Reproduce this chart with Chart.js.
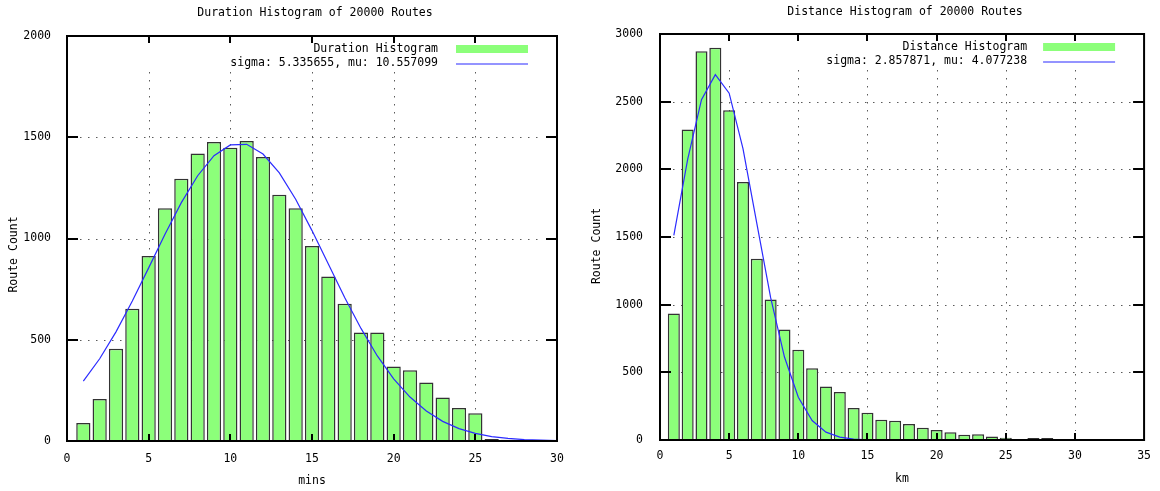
<!DOCTYPE html>
<html>
<head>
<meta charset="utf-8">
<title>Route Histograms</title>
<script src="https://cdn.jsdelivr.net/npm/chart.js@4"></script>
<style>
  html, body { margin: 0; padding: 0; background: #fff; }
  #wrap { position: relative; width: 1160px; height: 491px; }
  canvas { position: absolute; top: 0; }
  #durationChart { left: 0; }
  #distanceChart { left: 580px; }
</style>
</head>
<body>
<div id="wrap">
  <canvas id="durationChart" width="580" height="491"></canvas>
  <canvas id="distanceChart" width="580" height="491"></canvas>
</div>
<script>
// duration histogram, one bin per minute
const durationBins   = [1, 2, 3, 4, 5, 6, 7, 8, 9, 10, 11, 12, 13, 14, 15, 16, 17, 18, 19, 20, 21, 22, 23, 24, 25, 26, 27];
const durationCounts = [89, 207, 456, 653, 913, 1149, 1295, 1420, 1476, 1448, 1481, 1402, 1216, 1149, 963, 812, 678, 536, 536, 368, 350, 289, 215, 163, 137, 10, 6];
// fitted normal curve as plotted (sampled at each minute)
const durationFitX = [1, 2, 3, 4, 5, 6, 7, 8, 9, 10, 11, 12, 13, 14, 15, 16, 17, 18, 19, 20, 21, 22, 23, 24, 25, 26, 27, 28, 29, 30];
const durationFit  = [296, 406, 539, 691, 855, 1021, 1177, 1310, 1409, 1462, 1465, 1417, 1324, 1194, 1039, 874, 709, 556, 420, 307, 217, 148, 97, 61, 38, 22, 13, 7, 4, 2];
const durationXTicks = [0, 5, 10, 15, 20, 25, 30];
const durationYTicks = [0, 500, 1000, 1500, 2000];

// distance histogram, one bin per km
const distanceBins   = [1, 2, 3, 4, 5, 6, 7, 8, 9, 10, 11, 12, 13, 14, 15, 16, 17, 18, 19, 20, 21, 22, 23, 24, 25, 26, 27, 28];
const distanceCounts = [935, 2295, 2872, 2898, 2437, 1906, 1340, 1038, 816, 666, 531, 396, 354, 236, 201, 150, 143, 118, 91, 74, 57, 39, 42, 25, 17, 6, 14, 14];
const distanceFitX = [1, 2, 3, 4, 5, 6, 7, 8, 9, 10, 11, 12, 13, 14, 15, 16, 17, 18, 19, 20, 21, 22, 23, 24, 25, 26, 27, 28, 29, 30];
const distanceFit  = [1512, 2073, 2515, 2700, 2563, 2153, 1600, 1052, 613, 316, 144, 58, 21, 7, 2, 0, 0, 0, 0, 0, 0, 0, 0, 0, 0, 0, 0, 0, 0, 0];
const distanceXTicks = [0, 5, 10, 15, 20, 25, 30, 35];
const distanceYTicks = [0, 500, 1000, 1500, 2000, 2500, 3000];

const FONT = '11.5px "DejaVu Sans Mono", "Liberation Mono", monospace';
const BAR_GREEN = '#8cff7a';
const FIT_BLUE = '#2b2bff';

Chart.defaults.color = '#000';
Chart.defaults.font.family = '"DejaVu Sans Mono", "Liberation Mono", monospace';
Chart.defaults.font.size = 11.5;

// gnuplot look: dotted grid, heavy frame with inward ticks, key in the corner
function gnuplotPlugin(s) {
  return {
    id: 'gnuplot',
    beforeDatasetsDraw(chart) {
      const {ctx, chartArea: a, scales: {x, y}} = chart;
      ctx.save();
      ctx.strokeStyle = '#5a5a5a';
      ctx.lineWidth = 1;
      ctx.setLineDash([1.5, 6.5]);
      x.ticks.forEach(t => {
        if (t.value <= x.min || t.value >= x.max) return;
        const px = Math.round(x.getPixelForValue(t.value)) + 0.5;
        ctx.beginPath(); ctx.moveTo(px, a.top + 36); ctx.lineTo(px, a.bottom - 9); ctx.stroke();
      });
      y.ticks.forEach(t => {
        if (t.value <= y.min || t.value >= y.max) return;
        const py = Math.round(y.getPixelForValue(t.value)) + 0.5;
        ctx.beginPath(); ctx.moveTo(a.left + 13, py); ctx.lineTo(a.right - 13, py); ctx.stroke();
      });
      ctx.restore();
    },
    afterDatasetsDraw(chart) {
      const {ctx, chartArea: a, scales: {x, y}} = chart;
      ctx.save();
      ctx.strokeStyle = '#000';
      ctx.lineWidth = 2;
      ctx.strokeRect(a.left, a.top, a.right - a.left, a.bottom - a.top);
      x.ticks.forEach(t => {
        if (t.value <= x.min || t.value >= x.max) return;
        const px = Math.round(x.getPixelForValue(t.value));
        ctx.beginPath();
        ctx.moveTo(px, a.bottom); ctx.lineTo(px, a.bottom - 7);
        ctx.moveTo(px, a.top); ctx.lineTo(px, a.top + 7);
        ctx.stroke();
      });
      y.ticks.forEach(t => {
        if (t.value <= y.min || t.value >= y.max) return;
        const py = Math.round(y.getPixelForValue(t.value));
        ctx.beginPath();
        ctx.moveTo(a.left, py); ctx.lineTo(a.left + 11, py);
        ctx.moveTo(a.right, py); ctx.lineTo(a.right - 11, py);
        ctx.stroke();
      });
      ctx.restore();
    },
    afterDraw(chart) {
      const {ctx, chartArea: a} = chart;
      const cx = (a.left + a.right) / 2;
      ctx.save();
      ctx.font = FONT;
      ctx.fillStyle = '#000';
      ctx.textBaseline = 'middle';

      ctx.textAlign = 'center';
      ctx.fillText(s.title, cx + 3, s.titleY);
      ctx.fillText(s.xTitle, cx, s.xTitleY);

      ctx.save();
      ctx.translate(s.yTitleX, (a.top + a.bottom) / 2 + s.yTitleDy);
      ctx.rotate(-Math.PI / 2);
      ctx.fillText('Route Count', 0, 0);
      ctx.restore();

      // key
      ctx.textAlign = 'right';
      const tx = a.right - s.keyGap;
      const row1 = a.top + 13, row2 = a.top + 27.5;
      ctx.fillText(s.histLabel, tx, row1);
      ctx.fillText(s.fitLabel, tx, row2);
      ctx.fillStyle = BAR_GREEN;
      ctx.fillRect(a.right - 101, row1 - 4, 72, 8);
      ctx.strokeStyle = FIT_BLUE;
      ctx.lineWidth = 1.2;
      ctx.beginPath(); ctx.moveTo(a.right - 101, row2 + 0.5); ctx.lineTo(a.right - 29, row2 + 0.5); ctx.stroke();
      ctx.restore();
    }
  };
}

function makeChart(id, s) {
  const bars = s.bins.map((b, i) => ({x: b, y: s.counts[i]}));
  const fit = s.fitX.map((v, i) => ({x: v, y: s.fit[i]}));
  return new Chart(document.getElementById(id), {
    type: 'bar',
    data: {
      datasets: [
        {type: 'line', data: fit, borderColor: FIT_BLUE, borderWidth: 1.2, pointRadius: 0, tension: 0, fill: false, order: 0},
        {type: 'bar', data: bars, backgroundColor: BAR_GREEN, borderColor: '#333', borderWidth: 1.5,
         barPercentage: 0.87, categoryPercentage: 1, order: 1}
      ]
    },
    options: {
      responsive: false,
      animation: false,
      events: [],
      layout: {padding: {left: 0, top: s.padTop, right: s.padRight, bottom: 0}},
      plugins: {legend: {display: false}, tooltip: {enabled: false}, title: {display: false}},
      scales: {
        x: {
          type: 'linear', offset: false, min: s.xTicks[0], max: s.xTicks[s.xTicks.length - 1],
          grid: {display: false, drawTicks: false}, border: {display: false},
          afterBuildTicks: sc => { sc.ticks = s.xTicks.map(v => ({value: v})); },
          afterFit: sc => { sc.height = s.xHeight; },
          ticks: {padding: s.xTickPad, maxRotation: 0, autoSkip: false, callback: v => String(v)}
        },
        y: {
          min: s.yTicks[0], max: s.yTicks[s.yTicks.length - 1],
          grid: {display: false, drawTicks: false}, border: {display: false},
          afterBuildTicks: sc => { sc.ticks = s.yTicks.map(v => ({value: v})); },
          afterFit: sc => { sc.width = s.yWidth; },
          ticks: {padding: s.yTickPad, callback: v => String(v)}
        }
      }
    },
    plugins: [gnuplotPlugin(s)]
  });
}

makeChart('durationChart', {
  bins: durationBins, counts: durationCounts, fitX: durationFitX, fit: durationFit,
  xTicks: durationXTicks, yTicks: durationYTicks,
  title: 'Duration Histogram of 20000 Routes', xTitle: 'mins',
  histLabel: 'Duration Histogram', fitLabel: 'sigma: 5.335655, mu: 10.557099',
  padTop: 36, padRight: 23, yWidth: 67, xHeight: 50, xTickPad: 11, yTickPad: 16,
  titleY: 13, xTitleY: 481, yTitleX: 14, yTitleDy: 16, keyGap: 119
});

makeChart('distanceChart', {
  bins: distanceBins, counts: distanceCounts, fitX: distanceFitX, fit: distanceFit,
  xTicks: distanceXTicks, yTicks: distanceYTicks,
  title: 'Distance Histogram of 20000 Routes', xTitle: 'km',
  histLabel: 'Distance Histogram', fitLabel: 'sigma: 2.857871, mu: 4.077238',
  padTop: 34, padRight: 13, yWidth: 80, xHeight: 51, xTickPad: 9, yTickPad: 17,
  titleY: 12, xTitleY: 479, yTitleX: 17, yTitleDy: 9, keyGap: 117
});
</script>
</body>
</html>
